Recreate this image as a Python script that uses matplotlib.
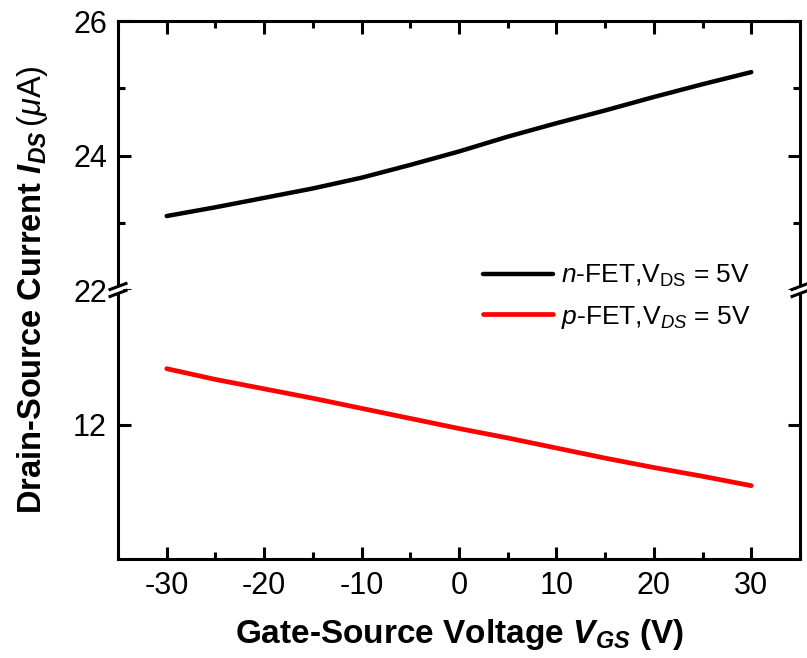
import numpy as np
import matplotlib.pyplot as plt
from matplotlib.ticker import MultipleLocator, FixedLocator

plt.rcParams['font.family'] = ['Liberation Sans', 'DejaVu Sans']
plt.rcParams['axes.unicode_minus'] = False
plt.rcParams['mathtext.fontset'] = 'custom'
plt.rcParams['mathtext.rm'] = 'Liberation Sans'
plt.rcParams['mathtext.it'] = 'Liberation Sans:italic'
plt.rcParams['mathtext.bf'] = 'Liberation Sans:bold'
plt.rcParams['mathtext.bfit'] = 'Liberation Sans:italic:bold'

# gate-source voltage sweep (V) and drain current (uA)
v_gs = [-30, -25, -20, -15, -10, -5, 0, 5, 10, 15, 20, 25, 30]
i_nfet = [23.10, 23.23, 23.37, 23.51, 23.67, 23.86, 24.06, 24.28, 24.48, 24.67, 24.87, 25.06, 25.24]
i_pfet = [12.83, 12.67, 12.53, 12.39, 12.24, 12.09, 11.94, 11.80, 11.65, 11.50, 11.36, 11.23, 11.09]

labels = [r'$\mathit{n}$-FET,V$_{\mathrm{DS}}$ = 5V', r'$\mathit{p}$-FET,V$_{\mathit{DS}}$ = 5V']

W, H = 807, 658
fig = plt.figure(figsize=(W / 100, H / 100), dpi=100)
left, right = 118 / W, 800 / W
bottom, top = 1 - 559 / H, 1 - 21 / H
mid = 1 - 290 / H

ax_top = fig.add_axes([left, mid, right - left, top - mid])
ax_bot = fig.add_axes([left, bottom, right - left, mid - bottom])

lw = 2.2
for ax in (ax_top, ax_bot):
    for s in ax.spines.values():
        s.set_linewidth(lw)
    ax.set_xlim(-35, 35)
    ax.xaxis.set_major_locator(MultipleLocator(10))
    ax.xaxis.set_minor_locator(MultipleLocator(5))
    ax.tick_params(which='both', direction='in', width=lw, labelsize=22, left=True, right=True)
    ax.tick_params(which='major', length=9)
    ax.tick_params(which='minor', length=5)
    ax.tick_params(axis='y', pad=8)
    ax.tick_params(axis='x', pad=9)

ax_top.spines['bottom'].set_visible(False)
ax_top.tick_params(axis='x', which='both', bottom=False, top=True, labelbottom=False)
ax_top.set_ylim(22, 26)
ax_top.yaxis.set_major_locator(MultipleLocator(2))
ax_top.yaxis.set_minor_locator(MultipleLocator(1))

ax_bot.spines['top'].set_visible(False)
ax_bot.tick_params(axis='x', which='both', top=False)
ax_bot.set_ylim(10, 14)
ax_bot.yaxis.set_major_locator(FixedLocator([12]))
ax_bot.yaxis.set_minor_locator(FixedLocator([]))

l1, = ax_top.plot(v_gs, i_nfet, color='black', lw=3.2, solid_capstyle='round')
l2, = ax_bot.plot(v_gs, i_pfet, color='#ff0000', lw=3.4, solid_capstyle='round')

# axis break marks on both vertical spines
dx, dy, gap = 8 / 682, 3 / 269, 3.5 / 269
for x0 in (0, 1):
    xs = [x0 - dx, x0 + dx]
    ax_bot.fill([x0 - dx * 0.6, x0 + dx * 0.6, x0 + dx * 0.6, x0 - dx * 0.6],
                [1 - dy - gap * 0.6, 1 + dy - gap * 0.6, 1 + dy + gap * 0.6, 1 - dy + gap * 0.6],
                color='white', transform=ax_bot.transAxes, clip_on=False, zorder=5)
    for off in (-gap, gap):
        ax_bot.plot(xs, [1 - dy + off, 1 + dy + off], color='black', lw=lw,
                    transform=ax_bot.transAxes, clip_on=False, zorder=6)

fig.legend([l1, l2], labels, loc='upper left', bbox_to_anchor=(483 / W, 1 - 263 / H),
           frameon=False, fontsize=19, handlelength=2.65, handletextpad=0.3,
           labelspacing=0.55, borderpad=0, borderaxespad=0)

fig.text(33 / W, 1 - 290 / H,
         r'Drain-Source Current $\mathbfit{I}_{\mathbfit{DS}}$$\mathrm{\,(}\mathit{\mu}\mathrm{A)}$',
         rotation=90, ha='center', va='center', fontsize=23.5, fontweight='bold')
fig.text(459 / W, 1 - 634 / H, r'Gate-Source Voltage $\mathbfit{V}_{\mathbfit{GS}}$ (V)',
         ha='center', va='center', fontsize=24, fontweight='bold')

fig.savefig('out.png', dpi=100)
